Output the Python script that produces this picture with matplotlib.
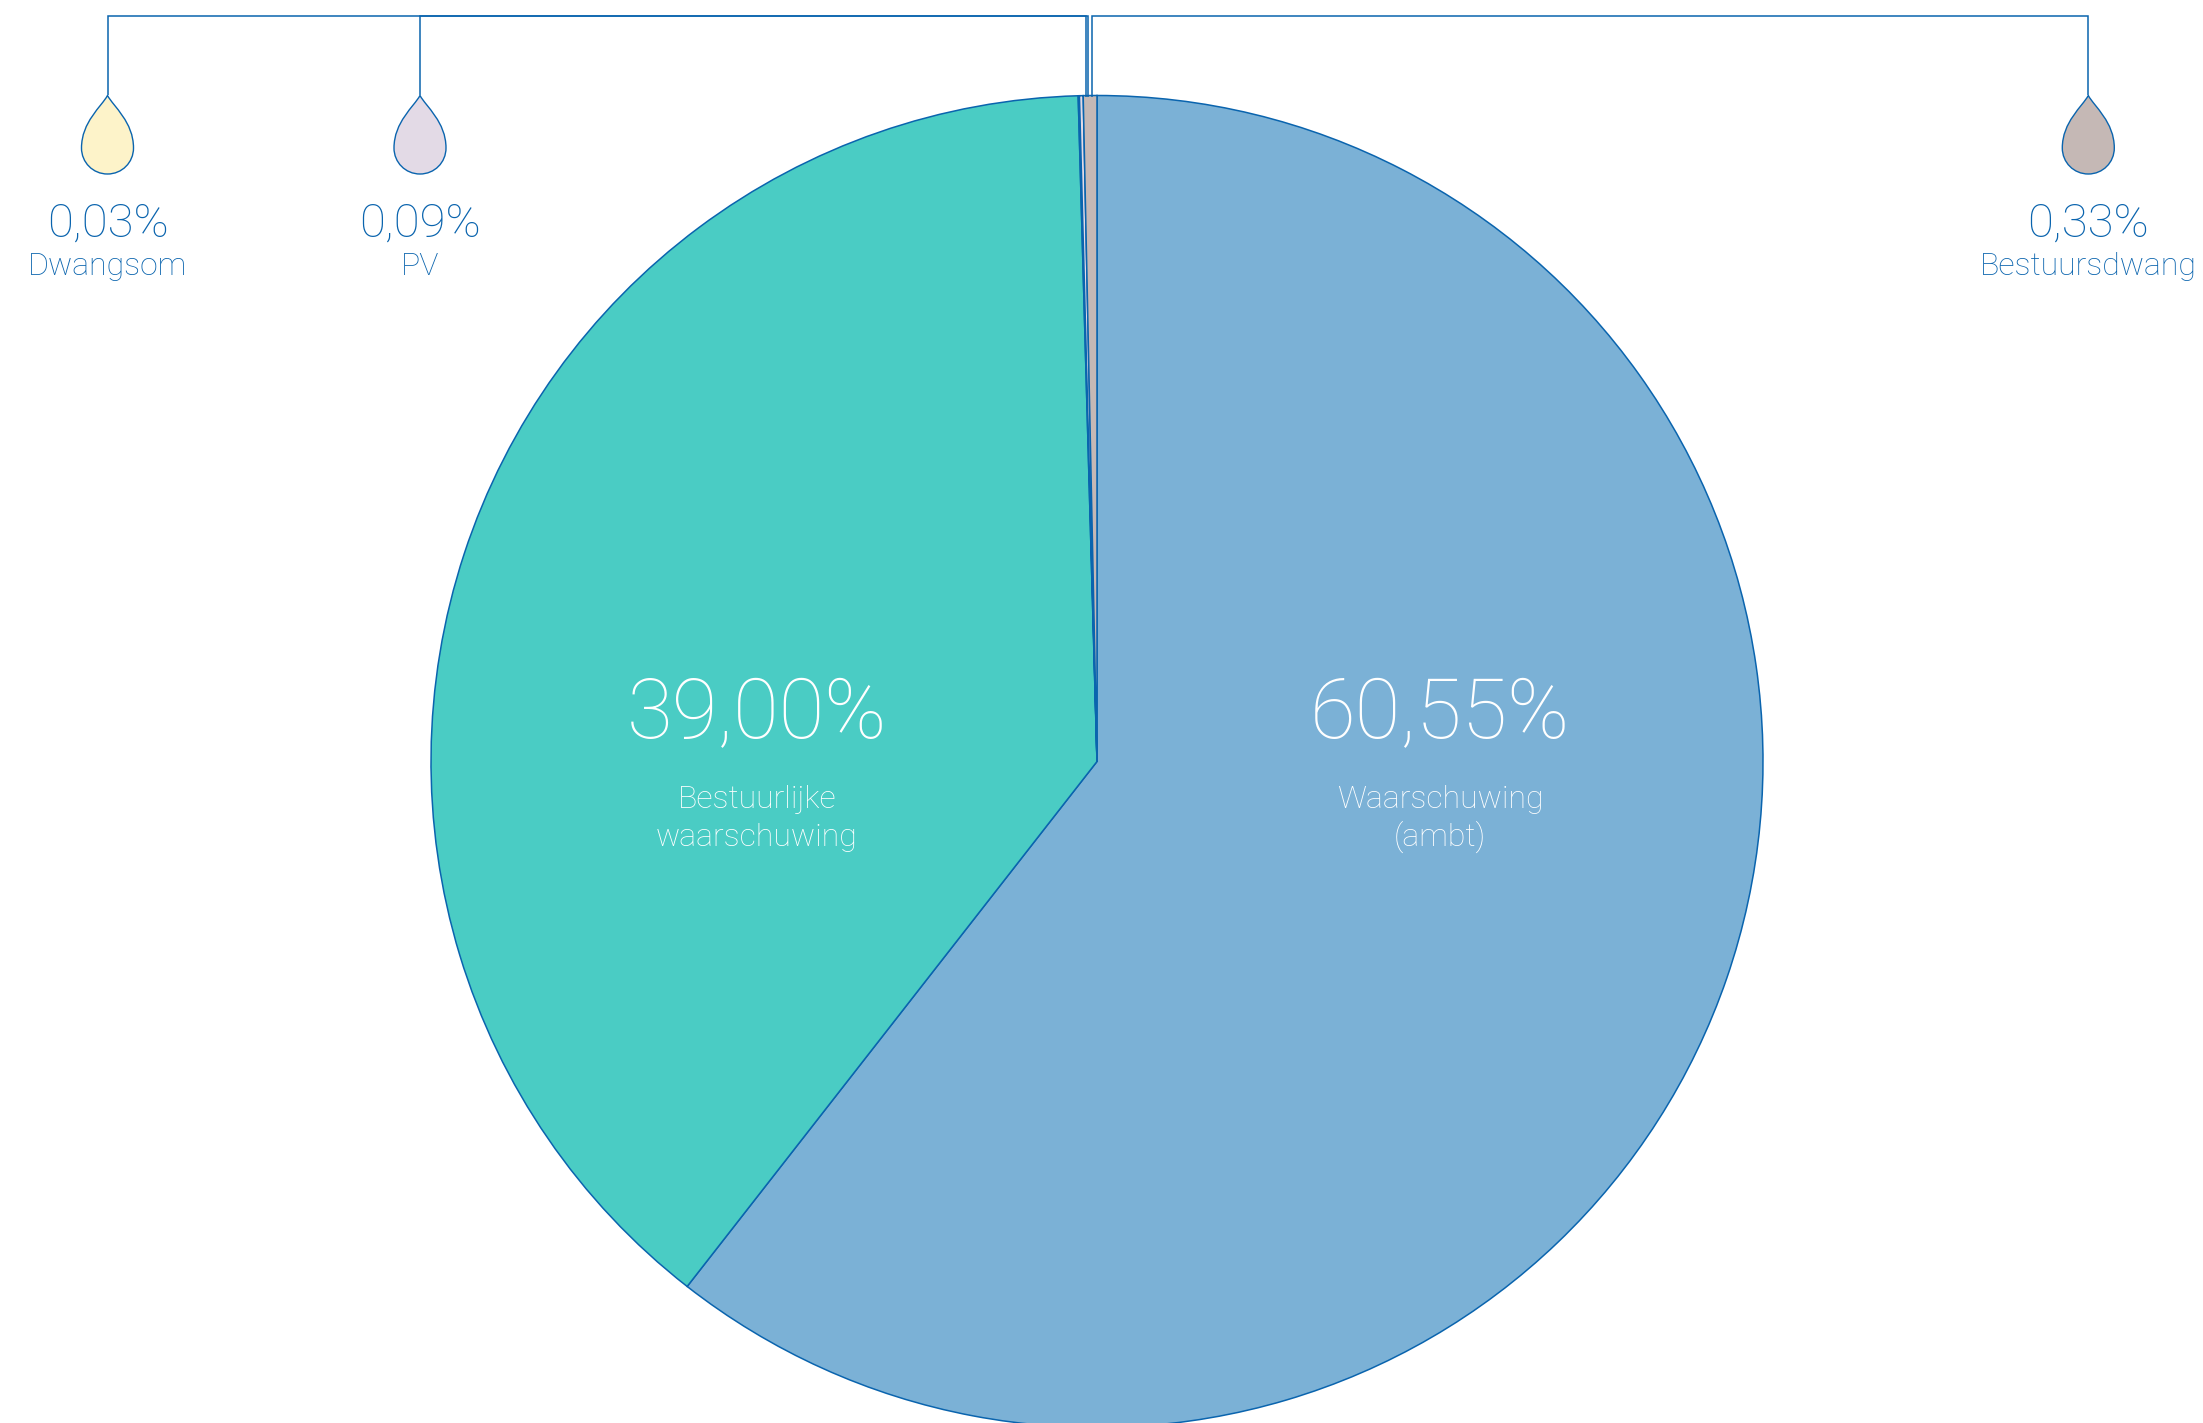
import matplotlib
matplotlib.use("Agg")
import matplotlib.pyplot as plt
from matplotlib.patches import PathPatch
from matplotlib.path import Path

categories = ["Waarschuwing\n(ambt)", "Bestuurlijke\nwaarschuwing", "Dwangsom", "PV", "Bestuursdwang"]
values = [60.55, 39.00, 0.03, 0.09, 0.33]
colors = ["#7BB1D6", "#4ACCC4", "#FDF3C9", "#E3DAE6", "#C5B8B5"]
LINE = "#0A64AE"
W, H = 2203, 1423
FONT = "Roboto"

def fmt(v):
    return f"{v:.2f}".replace(".", ",") + "%"

fig = plt.figure(figsize=(W / 100, H / 100), dpi=100, facecolor="white")
ax = fig.add_axes([0, 0, 1, 1])

def Y(y):
    return H - y

ax.pie(values, colors=colors, startangle=90, counterclock=False, center=(1097, Y(761.5)), radius=666,
       wedgeprops=dict(edgecolor=LINE, linewidth=1.1), frame=False)
ax.set_xlim(0, W)
ax.set_ylim(0, H)
ax.set_aspect("auto")
ax.axis("off")

# leader lines: (index in values, x at the pie, x at the drop)
leaders = [(2, 1086, 107.5), (3, 1088, 420), (4, 1092.3, 2088.3)]
for i, x0, x1 in leaders:
    ax.plot([x0, x0, x1, x1], [Y(97), Y(15.5), Y(15.5), Y(95)], color=LINE, lw=1.1,
            solid_joinstyle="miter", solid_capstyle="butt")
    r = 26
    top, cy = 95.5, 148
    verts = [(x1, Y(top)),
             (x1 - 6, Y(top + 11)), (x1 - r, Y(cy - 26)), (x1 - r, Y(cy)),
             (x1 - r, Y(cy + 14.5)), (x1 - 14.5, Y(cy + 26)), (x1, Y(cy + 26)),
             (x1 + 14.5, Y(cy + 26)), (x1 + r, Y(cy + 14.5)), (x1 + r, Y(cy)),
             (x1 + r, Y(cy - 26)), (x1 + 6, Y(top + 11)), (x1, Y(top))]
    codes = [Path.MOVETO] + [Path.CURVE4] * 12
    ax.add_patch(PathPatch(Path(verts, codes), facecolor=colors[i], edgecolor=LINE, lw=1.0, zorder=3))
    ax.text(x1, Y(237), fmt(values[i]), ha="center", va="baseline", color=LINE,
            fontsize=34, family=FONT, fontweight="light")
    ax.text(x1, Y(275), categories[i], ha="center", va="baseline", color=LINE,
            fontsize=23, family=FONT, fontweight="light")

# large inner labels: (index, centre x)
inner = [(0, 1440), (1, 757)]
for i, x in inner:
    ax.text(x, Y(738), fmt(values[i]), ha="center", va="baseline", color="white",
            fontsize=60, family=FONT, fontweight="light")
    for line, base in zip(categories[i].split("\n"), (808, 846)):
        ax.text(x, Y(base), line, ha="center", va="baseline", color="white",
                fontsize=23, family=FONT, fontweight="light")

fig.savefig("out.png", dpi=100, facecolor="white")
